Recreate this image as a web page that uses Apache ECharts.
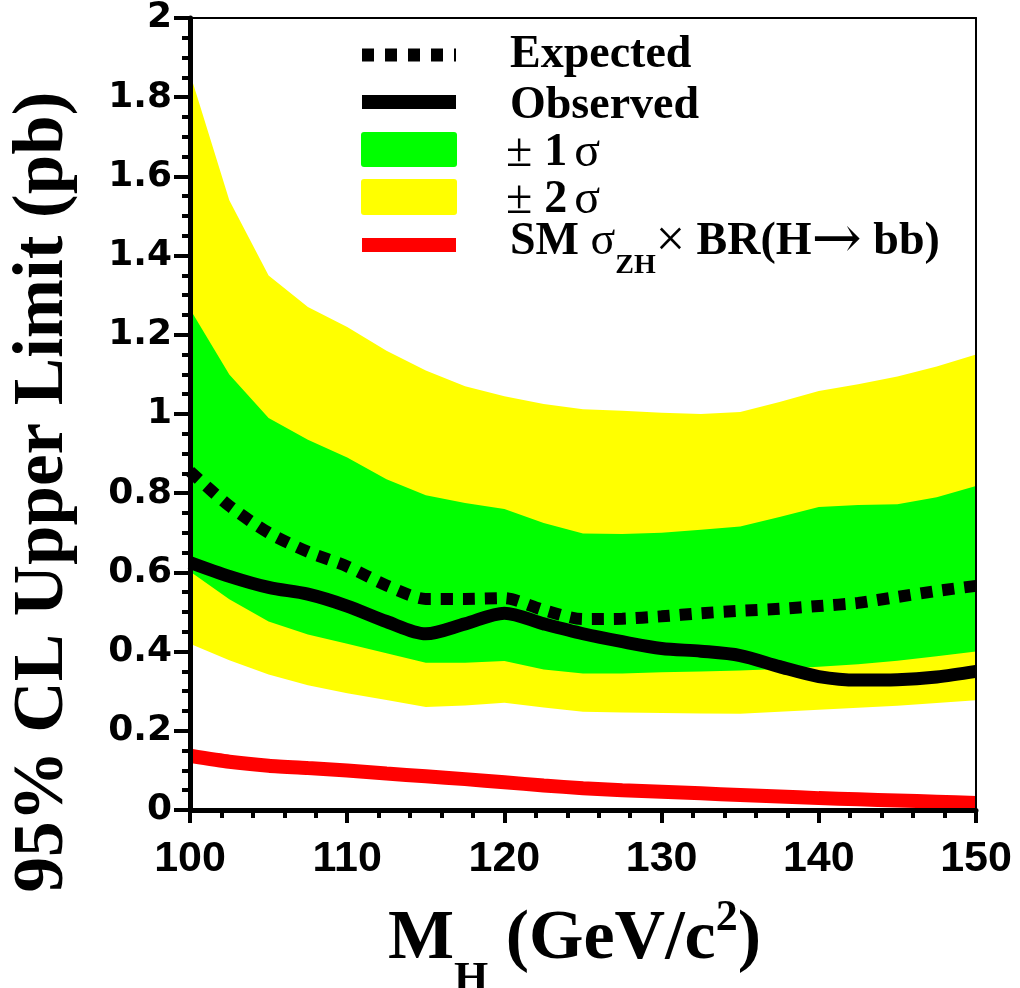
<!DOCTYPE html>
<html>
<head>
<meta charset="utf-8">
<script src="https://cdn.jsdelivr.net/npm/echarts@6/dist/echarts.min.js"></script>
<style>html,body{margin:0;padding:0;background:#fff}#c{width:1020px;height:988px}</style>
</head>
<body>
<div id="c"></div>
<script>
// Higgs mass points (GeV/c^2)
const mass = [100,102.5,105,107.5,110,112.5,115,117.5,120,122.5,125,127.5,130,132.5,135,137.5,140,142.5,145,147.5,150];
// +2 sigma band edge
const up2 = [1.86,1.54,1.35,1.27,1.22,1.16,1.11,1.07,1.045,1.025,1.012,1.008,1.003,1.0,1.005,1.03,1.058,1.075,1.095,1.12,1.15];
// +1 sigma band edge
const up1 = [1.265,1.10,0.99,0.935,0.89,0.835,0.795,0.775,0.76,0.725,0.698,0.697,0.70,0.708,0.716,0.74,0.765,0.77,0.772,0.79,0.818];
// -1 sigma band edge
const lo1 = [0.602,0.532,0.476,0.443,0.42,0.396,0.372,0.372,0.376,0.355,0.345,0.345,0.348,0.35,0.352,0.356,0.362,0.368,0.377,0.388,0.40];
// -2 sigma band edge
const lo2 = [0.42,0.378,0.342,0.315,0.295,0.278,0.26,0.264,0.271,0.259,0.248,0.246,0.245,0.244,0.243,0.248,0.253,0.258,0.263,0.27,0.277];
// expected limit
const expected = [0.855,0.768,0.70,0.652,0.615,0.567,0.533,0.533,0.535,0.505,0.482,0.483,0.489,0.497,0.503,0.508,0.515,0.523,0.538,0.553,0.566];
// observed limit
const observed = [0.625,0.59,0.562,0.545,0.515,0.476,0.445,0.47,0.497,0.47,0.445,0.425,0.408,0.401,0.39,0.362,0.337,0.328,0.329,0.336,0.35];
// SM sigma_ZH x BR(H->bb)
const smXsec = [0.137,0.122,0.112,0.106,0.100,0.092,0.085,0.078,0.07,0.062,0.055,0.05,0.046,0.042,0.038,0.034,0.03,0.027,0.024,0.021,0.018];

const pairs = arr => mass.map((m, i) => [m, arr[i]]);
const chart = echarts.init(document.getElementById('c'), null, {renderer: 'canvas'});

const serifB = '"Liberation Serif", "Times New Roman", serif';

function areaSeries(arr, color) {
  return {type: 'line', data: pairs(arr), symbol: 'none', smooth: false,
    lineStyle: {width: 0}, areaStyle: {color: color, opacity: 1, origin: 'start'},
    itemStyle: {color: color}, silent: true, z: 2};
}

const option = {
  animation: false,
  backgroundColor: '#fff',
  grid: {left: 190, right: 44, top: 16, bottom: 178, containLabel: false},
  xAxis: [{
    type: 'value', min: 100, max: 150, interval: 10, z: 10,
    axisLine: {show: true, onZero: false, lineStyle: {color: '#000', width: 5}},
    axisTick: {show: true, length: 13, lineStyle: {color: '#000', width: 4}},
    minorTick: {show: true, splitNumber: 5, length: 8, lineStyle: {color: '#000', width: 4}},
    splitLine: {show: false},
    axisLabel: {margin: 28, color: '#000', fontSize: 43, fontWeight: 'bold', fontFamily: '"Liberation Sans", Arial, sans-serif'}
  }, {
    type: 'value', position: 'top', min: 100, max: 150, z: 10,
    axisLine: {show: true, onZero: false, lineStyle: {color: '#000', width: 2}},
    axisTick: {show: false}, axisLabel: {show: false}, splitLine: {show: false}
  }],
  yAxis: [{
    type: 'value', min: 0, max: 2, interval: 0.2, z: 10,
    axisLine: {show: true, onZero: false, lineStyle: {color: '#000', width: 5}},
    axisTick: {show: true, length: 16, lineStyle: {color: '#000', width: 4}},
    minorTick: {show: true, splitNumber: 4, length: 8, lineStyle: {color: '#000', width: 4}},
    splitLine: {show: false},
    axisLabel: {margin: 18, color: '#000', fontSize: 36, fontWeight: 'bold', fontFamily: '"DejaVu Sans", sans-serif'}
  }, {
    type: 'value', position: 'right', min: 0, max: 2, z: 10,
    axisLine: {show: true, onZero: false, lineStyle: {color: '#000', width: 2}},
    axisTick: {show: false}, axisLabel: {show: false}, splitLine: {show: false}
  }],
  series: [
    areaSeries(up2, '#ffff00'),
    areaSeries(up1, '#00ff00'),
    areaSeries(lo1, '#ffff00'),
    areaSeries(lo2, '#ffffff'),
    {type: 'line', name: 'SM', data: pairs(smXsec), symbol: 'none', smooth: 0.2,
     lineStyle: {color: '#ff0000', width: 14}, z: 3},
    {type: 'line', name: 'Observed', data: pairs(observed), symbol: 'none', smooth: 0.3,
     lineStyle: {color: '#000', width: 13}, z: 4},
    {type: 'line', name: 'Expected', data: pairs(expected), symbol: 'none', smooth: 0.25,
     lineStyle: {color: '#000', width: 12, type: [12, 10], cap: 'butt'}, z: 5}
  ],
  graphic: [
    // y axis title
    {type: 'text', x: 44, y: 492, rotation: Math.PI / 2,
     style: {text: '95% CL Upper Limit (pb)', font: 'bold 71px ' + serifB, fill: '#000', align: 'center', verticalAlign: 'middle'}},
    // x axis title
    {type: 'text', x: 388, y: 905,
     style: {text: '{m|M}{s|H}{m| (GeV/c}{p|2}{m|)}', fill: '#000', align: 'left', verticalAlign: 'top',
       rich: {
         m: {font: 'bold 70px ' + serifB, lineHeight: 70, fill: '#000'},
         s: {font: 'bold 44px ' + serifB, lineHeight: 44, padding: [81, 0, 0, 0], fill: '#000'},
         p: {font: 'bold 44px ' + serifB, lineHeight: 44, padding: [0, 0, 42, 0], fill: '#000'}
       }}},
    // legend symbols
    {type: 'line', shape: {x1: 362, y1: 55, x2: 456, y2: 55}, style: {stroke: '#000', lineWidth: 13, lineDash: [12, 11], lineCap: 'butt'}},
    {type: 'line', shape: {x1: 362, y1: 102, x2: 456, y2: 102}, style: {stroke: '#000', lineWidth: 14, lineCap: 'butt'}},
    {type: 'rect', shape: {x: 361, y: 132, width: 96, height: 35, r: 3}, style: {fill: '#00ff00'}},
    {type: 'rect', shape: {x: 361, y: 179, width: 96, height: 36, r: 3}, style: {fill: '#ffff00'}},
    {type: 'line', shape: {x1: 362, y1: 245, x2: 456, y2: 245}, style: {stroke: '#ff0000', lineWidth: 14, lineCap: 'butt'}},
    // legend texts
    {type: 'text', x: 510, y: 55, style: {text: 'Expected', font: 'bold 46px ' + serifB, fill: '#000', verticalAlign: 'middle'}},
    {type: 'text', x: 510, y: 106, style: {text: 'Observed', font: 'bold 46px ' + serifB, fill: '#000', verticalAlign: 'middle'}},
    {type: 'text', x: 506, y: 153, style: {text: '{n|± }{b|1}{g|σ}', verticalAlign: 'middle',
       rich: {n: {font: '48px ' + serifB, fill: '#000'}, b: {font: 'bold 46px ' + serifB, fill: '#000'}, g: {font: '48px ' + serifB, fill: '#000', padding: [0, 0, 0, 7]}}}},
    {type: 'text', x: 506, y: 200, style: {text: '{n|± }{b|2}{g|σ}', verticalAlign: 'middle',
       rich: {n: {font: '48px ' + serifB, fill: '#000'}, b: {font: 'bold 46px ' + serifB, fill: '#000'}, g: {font: '48px ' + serifB, fill: '#000', padding: [0, 0, 0, 7]}}}},
    {type: 'text', x: 510, y: 219, style: {text: '{b|SM }{n|σ}{s|ZH}{x|×}{b| BR(H}{a|→}{b| bb)}', verticalAlign: 'top',
       rich: {
         b: {font: 'bold 46px ' + serifB, lineHeight: 46, fill: '#000'},
         n: {font: '46px ' + serifB, lineHeight: 46, fill: '#000'},
         x: {font: '52px ' + serifB, lineHeight: 46, fill: '#000'},
         a: {font: '60px "DejaVu Serif", serif', lineHeight: 46, fill: '#000'},
         s: {font: 'bold 28px ' + serifB, lineHeight: 28, padding: [48, 0, 0, 0], fill: '#000'}
       }}}
  ]
};
chart.setOption(option);
</script>
</body>
</html>
